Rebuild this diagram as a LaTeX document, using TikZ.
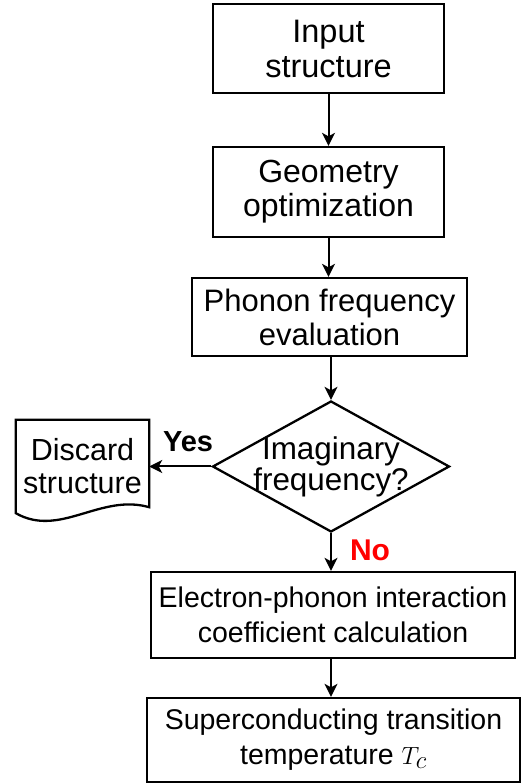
\documentclass[tikz,border=0pt]{standalone}
\usepackage{fontspec}
\setmainfont{Liberation Sans}
\usetikzlibrary{arrows.meta,shapes.geometric}

\tikzset{
  box/.style={draw, line width=2.3pt, rectangle, inner sep=0pt, align=center},
  flow/.style={line width=2pt, -{Stealth[length=13pt,width=13pt,inset=3.5pt]}},
  lbl/.style={inner sep=0pt}
}

\begin{document}
\begin{tikzpicture}[x=1pt,y=1pt]
\useasboundingbox (0,0) rectangle (523,783);

% main chain of process steps
\node[box, minimum width=231pt, minimum height=89pt,
  font=\fontsize{32.5}{35}\selectfont] (input) at (328.5,734.5)
  {Input\\structure};
\node[box, minimum width=231pt, minimum height=90pt,
  font=\fontsize{32}{34}\selectfont] (geom) at (328.5,591)
  {Geometry\\optimization};
\node[box, minimum width=275pt, minimum height=78pt,
  font=\fontsize{31}{34}\selectfont] (phonon) at (329.5,466)
  {Phonon frequency\\evaluation};

% decision
\node[draw, diamond, line width=2.3pt, minimum width=237pt, minimum height=131pt,
  inner sep=0pt] (dec) at (331,316.5) {};
\node[align=center, inner sep=0pt, font=\fontsize{31.4}{31}\selectfont] (dectext)
  at (331,316) {Imaginary\\frequency?};

% discarded branch: document shape with a wavy lower edge
\node[inner sep=0pt, minimum width=133pt, minimum height=93pt, align=center,
  font=\fontsize{30.5}{33}\selectfont] (discard) at (82.5,316.5)
  {Discard\\structure};
\draw[line width=2.3pt, line join=miter]
  (discard.south west) -- (discard.north west) -- (discard.north east)
  -- ([yshift=6pt]discard.south east)
  .. controls ([xshift=-49pt,yshift=20pt]discard.south east)
  and ([xshift=44pt,yshift=-25pt]discard.south west) .. (discard.south west) -- cycle;

\node[box, minimum width=364pt, minimum height=86pt,
  font=\fontsize{28.5}{35}\selectfont] (eph) at (333,168)
  {Electron-phonon interaction\\coefficient calculation};
\node[box, minimum width=373pt, minimum height=84pt,
  font=\fontsize{28.5}{35}\selectfont] (tc) at (333.5,43)
  {Superconducting transition\\temperature
   $T_{\hbox{\fontsize{24}{24}\selectfont$\mathnormal{c}$}}$};

% connectors
\draw[flow] (input.south) -- (geom.north);
\draw[flow] (geom.south) -- (geom.south |- phonon.north);
\draw[flow] (phonon.south -| dec.north) -- (dec.north);
\draw[flow] (dec.west) -- (discard.east);
\draw[flow] (dec.south) -- (dec.south |- eph.north);
\draw[flow] (eph.south -| dec.south) -- (tc.north -| dec.south);

% branch labels
\node[lbl, font=\fontsize{29}{30}\selectfont\bfseries] (yes) at (188,341) {Yes};
\node[lbl, font=\fontsize{30}{32}\selectfont\bfseries,
  text={rgb,255:red,255;green,0;blue,0}] (no) at (370,233) {No};
\end{tikzpicture}
\end{document}
